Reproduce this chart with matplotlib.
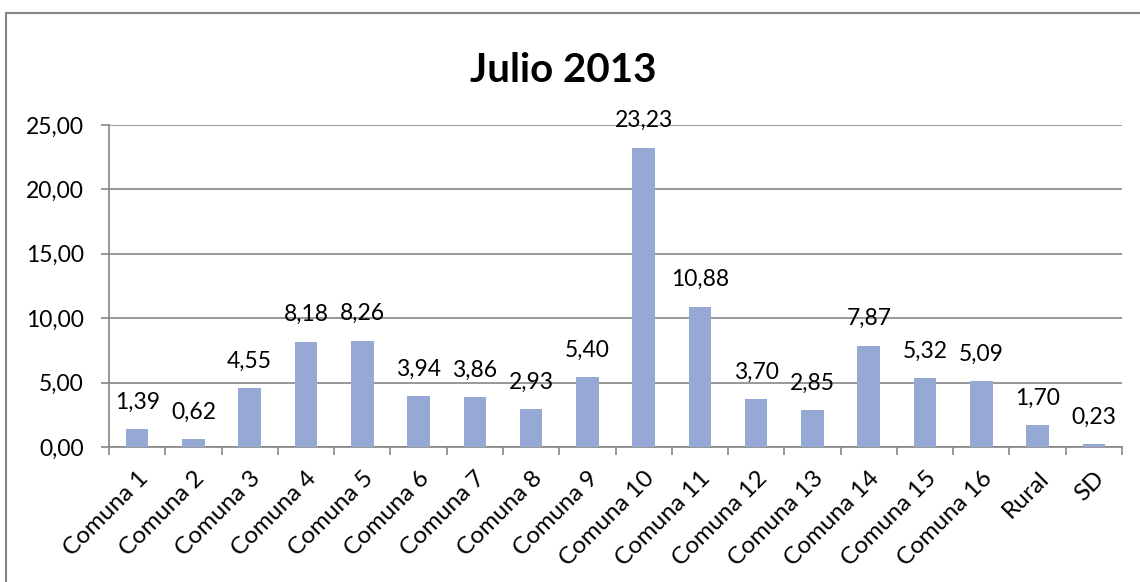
import matplotlib.pyplot as plt
from matplotlib.patches import Rectangle
import numpy as np

categorias = ["Comuna 1", "Comuna 2", "Comuna 3", "Comuna 4", "Comuna 5", "Comuna 6",
              "Comuna 7", "Comuna 8", "Comuna 9", "Comuna 10", "Comuna 11", "Comuna 12",
              "Comuna 13", "Comuna 14", "Comuna 15", "Comuna 16", "Rural", "SD"]
valores = [1.39, 0.62, 4.55, 8.18, 8.26, 3.94, 3.86, 2.93, 5.40, 23.23, 10.88,
           3.70, 2.85, 7.87, 5.32, 5.09, 1.70, 0.23]
y_ticks = [0, 5, 10, 15, 20, 25]


def coma(v):
    return f"{v:.2f}".replace(".", ",")


plt.rcParams['font.family'] = ['Lato', 'DejaVu Sans']

fig = plt.figure(figsize=(11.4, 5.82), dpi=100)
ax = fig.add_axes([109 / 1140, 1 - 447 / 582, 1013 / 1140, 322 / 582])

# marco exterior del grafico
fig.patches.append(Rectangle((6 / 1140, -0.05), 1.1, 1 - 13 / 582 + 0.05,
                             transform=fig.transFigure, fill=False,
                             edgecolor="#868686", linewidth=1.5))

x = np.arange(len(categorias))
ax.bar(x, valores, width=0.4, color="#95A9D4", zorder=3)

for xi, v in zip(x, valores):
    ax.annotate(coma(v), (xi, v), xytext=(0, 12), textcoords="offset points",
                ha="center", va="bottom", fontsize=16.5, zorder=4)

ax.set_xlim(-0.5, len(categorias) - 0.5)
ax.set_ylim(0, 25)
ax.set_yticks(y_ticks)
ax.set_yticklabels([coma(t) for t in y_ticks], fontsize=16.5)
ax.set_xticks(x)
ax.set_xticklabels(categorias, rotation=45, ha="right", rotation_mode="anchor", fontsize=17.5)
ax.set_xticks(np.arange(len(categorias) + 1) - 0.5, minor=True)
ax.tick_params(axis="x", which="major", length=0, pad=15)
ax.tick_params(axis="x", which="minor", length=6, color="#868686", width=1.2)
ax.tick_params(axis="y", length=6, color="#868686", width=1.2, pad=12)

ax.grid(axis="y", color="#868686", linewidth=1.2, zorder=0)
for s in ["top", "right"]:
    ax.spines[s].set_visible(False)
for s in ["left", "bottom"]:
    ax.spines[s].set_color("#868686")
    ax.spines[s].set_linewidth(1.2)

fig.text(563 / 1140, 1 - 71 / 582, "Julio 2013", ha="center", va="center",
         fontsize=29, fontweight="bold")

fig.savefig("out.png", dpi=100)
